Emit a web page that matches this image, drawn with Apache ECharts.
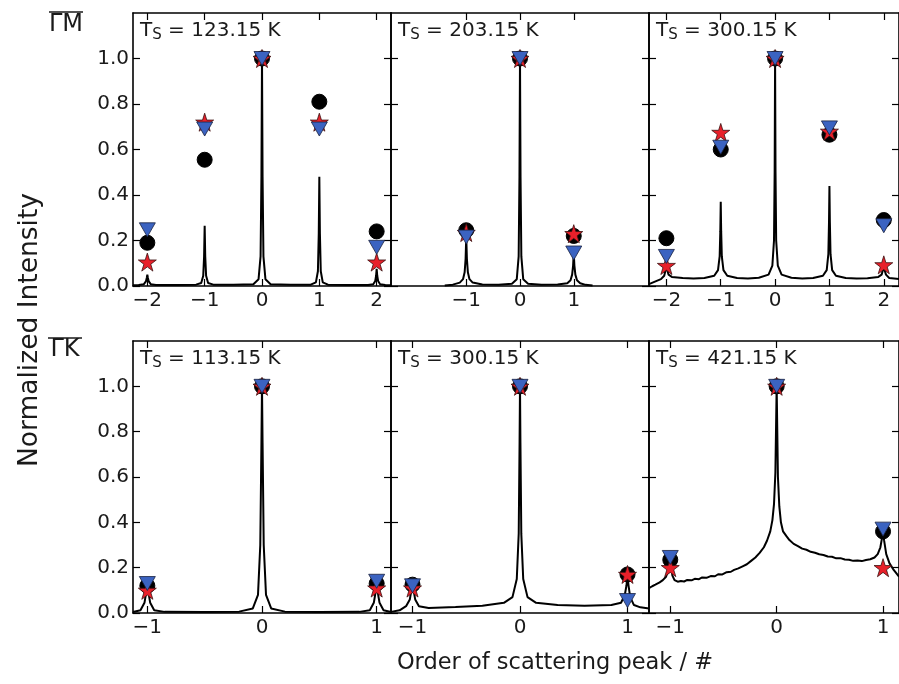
<!DOCTYPE html>
<html><head><meta charset="utf-8">
<script src="https://cdn.jsdelivr.net/npm/echarts@6/dist/echarts.min.js"></script>
<style>html,body{margin:0;padding:0;background:#fff}#c{width:899px;height:684px}</style>
</head><body><div id="c"></div>
<script>
// ---------- data ----------
const temps = ['123.15', '203.15', '300.15', '113.15', '300.15', '421.15'];
const rowLabels = ['ΓM', 'ΓK'];
const xLabel = 'Order of scattering peak / #';
const yLabel = 'Normalized Intensity';
const yTicks = [0, 0.2, 0.4, 0.6, 0.8, 1.0];
const xTicks5 = [-2, -1, 0, 1, 2];
const xTicks3 = [-1, 0, 1];

// marker positions / values per panel
const mx1 = [-2, -1, 0, 1, 2];
const circ1 = [0.19, 0.555, 1.0, 0.81, 0.24];
const star1 = [0.105, 0.72, 1.0, 0.72, 0.105];
const tri1 = [0.247, 0.69, 1.0, 0.69, 0.17];

const mx2 = [-1, 0, 1];
const circ2 = [0.245, 1.0, 0.22];
const star2 = [0.235, 1.0, 0.23];
const tri2 = [0.215, 1.0, 0.145];

const mx3 = [-2, -1, 0, 1, 2];
const circ3 = [0.21, 0.60, 1.0, 0.665, 0.29];
const star3 = [0.09, 0.675, 1.0, 0.68, 0.093];
const tri3 = [0.13, 0.61, 1.0, 0.695, 0.265];

const mx4 = [-1, 0, 1];
const circ4 = [0.12, 1.0, 0.13];
const star4 = [0.10, 1.0, 0.11];
const tri4 = [0.13, 1.0, 0.14];

const mx5 = [-1, 0, 1];
const circ5 = [0.125, 1.0, 0.17];
const star5 = [0.11, 1.0, 0.17];
const tri5 = [0.12, 1.0, 0.055];

const mx6 = [-1, 0, 1];
const circ6 = [0.235, 1.0, 0.36];
const star6 = [0.20, 1.0, 0.20];
const tri6 = [0.245, 1.0, 0.37];

// measured spectra [order, intensity]
const line1 = [[-2.25,0.003],[-2.15,0.004],[-2.06,0.008],[-2.025,0.02],[-2.01,0.035],[-2,0.05],[-1.99,0.035],[-1.975,0.02],[-1.94,0.008],[-1.85,0.004],[-1.5,0.004],
 [-1.15,0.006],[-1.06,0.013],[-1.025,0.045],[-1.01,0.13],[-1,0.265],[-0.99,0.13],[-0.975,0.045],[-0.94,0.013],[-0.85,0.006],[-0.5,0.005],
 [-0.15,0.008],[-0.06,0.03],[-0.025,0.13],[-0.01,0.48],[0,1.0],[0.01,0.48],[0.025,0.13],[0.06,0.03],[0.15,0.008],[0.5,0.005],
 [0.85,0.006],[0.94,0.016],[0.975,0.065],[0.99,0.23],[1,0.48],[1.01,0.23],[1.025,0.065],[1.06,0.016],[1.15,0.006],[1.5,0.004],
 [1.85,0.004],[1.94,0.008],[1.975,0.022],[1.99,0.045],[2,0.075],[2.01,0.045],[2.025,0.022],[2.06,0.008],[2.15,0.004],[2.25,0.003]];

const line2 = [[-1.4,0.002],[-1.25,0.006],[-1.12,0.015],[-1.06,0.03],[-1.03,0.06],[-1.012,0.12],[-1,0.215],[-0.988,0.12],[-0.97,0.06],[-0.94,0.03],[-0.88,0.015],[-0.7,0.007],[-0.4,0.006],
 [-0.15,0.01],[-0.06,0.03],[-0.025,0.13],[-0.01,0.48],[0,1.0],[0.01,0.48],[0.025,0.13],[0.06,0.03],[0.15,0.01],[0.4,0.006],[0.7,0.007],
 [0.88,0.012],[0.94,0.025],[0.97,0.05],[0.988,0.09],[1,0.145],[1.012,0.09],[1.03,0.05],[1.06,0.025],[1.12,0.012],[1.22,0.005],[1.35,0.002]];

const line3 = [[-2.32,0.008],[-2.2,0.02],[-2.1,0.03],[-2.04,0.045],[-2.015,0.07],[-2,0.09],[-1.985,0.07],[-1.96,0.05],[-1.9,0.04],[-1.7,0.035],[-1.5,0.033],[-1.3,0.035],
 [-1.12,0.045],[-1.05,0.07],[-1.02,0.13],[-1.008,0.24],[-1,0.37],[-0.992,0.24],[-0.98,0.13],[-0.95,0.07],[-0.88,0.045],[-0.7,0.035],[-0.5,0.033],[-0.3,0.036],
 [-0.12,0.05],[-0.05,0.09],[-0.02,0.2],[-0.008,0.5],[0,1.0],[0.008,0.5],[0.02,0.2],[0.05,0.09],[0.12,0.05],[0.3,0.036],[0.5,0.033],[0.7,0.035],
 [0.88,0.045],[0.95,0.07],[0.98,0.14],[0.992,0.28],[1,0.44],[1.008,0.28],[1.02,0.14],[1.05,0.07],[1.12,0.045],[1.3,0.035],[1.5,0.033],[1.7,0.034],
 [1.9,0.04],[1.96,0.05],[1.985,0.07],[2,0.1],[2.015,0.07],[2.04,0.05],[2.1,0.035],[2.3,0.03]];

const line4 = [[-1.125,0.004],[-1.06,0.012],[-1.025,0.045],[-1.01,0.09],[-1,0.12],[-0.99,0.09],[-0.975,0.045],[-0.94,0.012],[-0.85,0.005],[-0.5,0.004],
 [-0.2,0.006],[-0.08,0.02],[-0.035,0.08],[-0.015,0.3],[-0.005,0.75],[0,1.0],[0.005,0.75],[0.015,0.3],[0.035,0.08],[0.08,0.02],[0.2,0.006],[0.5,0.004],
 [0.85,0.005],[0.94,0.012],[0.975,0.045],[0.99,0.09],[1,0.12],[1.01,0.09],[1.025,0.045],[1.06,0.012],[1.125,0.004]];

const line5 = [[-1.2,0.005],[-1.12,0.012],[-1.06,0.03],[-1.025,0.06],[-1.01,0.1],[-1,0.125],[-0.99,0.1],[-0.975,0.06],[-0.94,0.03],[-0.85,0.022],[-0.6,0.026],[-0.35,0.032],
 [-0.15,0.045],[-0.07,0.07],[-0.03,0.15],[-0.012,0.35],[-0.004,0.75],[0,1.0],[0.004,0.75],[0.012,0.35],[0.03,0.15],[0.07,0.07],[0.15,0.045],[0.35,0.035],[0.6,0.032],
 [0.85,0.035],[0.94,0.045],[0.975,0.08],[0.99,0.12],[1,0.16],[1.01,0.12],[1.025,0.07],[1.06,0.035],[1.12,0.025],[1.2,0.02]];

const line6 = [[-1.2,0.11],[-1.17,0.118],[-1.14,0.125],[-1.1,0.135],[-1.07,0.145],[-1.04,0.16],[-1.02,0.185],[-1.008,0.21],[-1,0.225],[-0.992,0.2],[-0.98,0.165],[-0.96,0.145],
 [-0.93,0.138],[-0.9,0.141],[-0.87,0.139],[-0.84,0.146],[-0.8,0.144],[-0.77,0.151],[-0.73,0.149],[-0.7,0.157],[-0.66,0.155],[-0.62,0.163],[-0.58,0.162],[-0.55,0.171],[-0.51,0.17],
 [-0.47,0.18],[-0.43,0.182],[-0.4,0.19],[-0.36,0.197],[-0.32,0.206],[-0.28,0.215],[-0.24,0.23],[-0.2,0.245],[-0.16,0.265],[-0.12,0.29],[-0.09,0.32],[-0.06,0.36],[-0.04,0.41],
 [-0.025,0.48],[-0.012,0.62],[0,1.0],[0.012,0.6],[0.025,0.47],[0.04,0.4],[0.06,0.36],[0.09,0.34],[0.12,0.322],[0.16,0.305],[0.2,0.295],[0.24,0.284],[0.28,0.279],
 [0.32,0.27],[0.36,0.266],[0.4,0.259],[0.44,0.256],[0.48,0.249],[0.52,0.248],[0.56,0.241],[0.6,0.242],[0.64,0.236],[0.68,0.235],[0.72,0.23],[0.76,0.232],[0.8,0.229],
 [0.84,0.234],[0.88,0.237],[0.92,0.245],[0.95,0.26],[0.975,0.29],[0.99,0.33],[1,0.37],[1.01,0.32],[1.03,0.26],[1.06,0.22],[1.1,0.19],[1.15,0.16]];

// ---------- layout ----------
const FONT = 'DejaVu Sans';
const W = 258;
const panels = [
  {left:133, top:13,  h:273, xmin:-2.25, xmax:2.25, xt:xTicks5, ylab:true,  line:line1, mx:mx1, c:circ1, s:star1, t:tri1},
  {left:391, top:13,  h:273, xmin:-2.4,  xmax:2.4,  xt:xTicks3, ylab:false, line:line2, mx:mx2, c:circ2, s:star2, t:tri2},
  {left:649, top:13,  h:273, xmin:-2.32, xmax:2.28, xt:xTicks5, ylab:false, line:line3, mx:mx3, c:circ3, s:star3, t:tri3},
  {left:133, top:341, h:272, xmin:-1.125,xmax:1.125,xt:xTicks3, ylab:true,  line:line4, mx:mx4, c:circ4, s:star4, t:tri4},
  {left:391, top:341, h:272, xmin:-1.2,  xmax:1.2,  xt:xTicks3, ylab:false, line:line5, mx:mx5, c:circ5, s:star5, t:tri5},
  {left:649, top:341, h:272, xmin:-1.2,  xmax:1.15, xt:xTicks3, ylab:false, line:line6, mx:mx6, c:circ6, s:star6, t:tri6}
];

const STAR = 'path://M50,2 L61.2,36.5 L97.6,36.5 L68.2,57.9 L79.4,92.4 L50,71 L20.6,92.4 L31.8,57.9 L2.4,36.5 L38.8,36.5 Z';
const fmtX = v => v < 0 ? '\u2212' + Math.abs(v) : String(v);
const axLine = {show:true, onZero:false, lineStyle:{color:'#000', width:1.6}};
const tickSty = {color:'#000', width:1.2};

const grid = [], xAxis = [], yAxis = [], series = [], graphic = [];
panels.forEach((p, i) => {
  grid.push({left:p.left, top:p.top, width:W, height:p.h, containLabel:false});
  xAxis.push({gridIndex:i, type:'value', position:'bottom', min:p.xmin, max:p.xmax,
    axisLine:axLine, splitLine:{show:false},
    axisTick:{show:true, inside:true, length:7, customValues:p.xt, lineStyle:tickSty},
    axisLabel:{show:true, customValues:p.xt, formatter:fmtX, fontFamily:FONT, fontSize:20, color:'#1a1a1a', margin:5}});
  xAxis.push({gridIndex:i, type:'value', position:'top', min:p.xmin, max:p.xmax,
    axisLine:axLine, splitLine:{show:false},
    axisTick:{show:true, inside:true, length:7, customValues:p.xt, lineStyle:tickSty},
    axisLabel:{show:false}});
  yAxis.push({gridIndex:i, type:'value', position:'left', min:0, max:1.2,
    axisLine:axLine, splitLine:{show:false},
    axisTick:{show:true, inside:true, length:7, customValues:yTicks, lineStyle:tickSty},
    axisLabel:{show:p.ylab, customValues:yTicks, formatter:v => v.toFixed(1), fontFamily:FONT, fontSize:20, color:'#1a1a1a', margin:4}});
  yAxis.push({gridIndex:i, type:'value', position:'right', min:0, max:1.2,
    axisLine:axLine, splitLine:{show:false},
    axisTick:{show:true, inside:true, length:7, customValues:yTicks, lineStyle:tickSty},
    axisLabel:{show:false}});
  const xi = 2*i, yi = 2*i;
  series.push({type:'line', xAxisIndex:xi, yAxisIndex:yi, data:p.line, showSymbol:false, smooth:false,
    lineStyle:{color:'#000', width:2}, z:2});
  series.push({type:'scatter', xAxisIndex:xi, yAxisIndex:yi, data:p.mx.map((x,k)=>[x,p.c[k]]),
    symbol:'circle', symbolSize:15, itemStyle:{color:'#000', borderColor:'#000', borderWidth:1, opacity:1}, z:3});
  series.push({type:'scatter', xAxisIndex:xi, yAxisIndex:yi, data:p.mx.map((x,k)=>[x,p.s[k]]),
    symbol:STAR, symbolSize:18, itemStyle:{color:'#e8202a', borderColor:'#3a1010', borderWidth:0.8, opacity:1}, z:4});
  series.push({type:'scatter', xAxisIndex:xi, yAxisIndex:yi, data:p.mx.map((x,k)=>[x,p.t[k]]),
    symbol:'triangle', symbolRotate:180, symbolSize:[16,14], itemStyle:{color:'#3b63c1', borderColor:'#1a2240', borderWidth:0.8, opacity:1}, z:5});
  graphic.push({type:'text', x:p.left+7, y:p.top+6, z:10,
    style:{text:'{t|T}{s|S}{t| = ' + temps[i] + ' K}', textVerticalAlign:'top',
      rich:{t:{fontFamily:FONT, fontSize:20, lineHeight:24, fill:'#1a1a1a', verticalAlign:'middle'},
            s:{fontFamily:FONT, fontSize:15, lineHeight:11, fill:'#1a1a1a', verticalAlign:'bottom'}}}});
});

// row labels with overline
[[66, 25, 12], [65, 350, 338]].forEach((r, k) => {
  graphic.push({type:'text', x:r[0], y:r[1], style:{text:rowLabels[k], fontFamily:FONT, fontSize:24, fill:'#1a1a1a', textAlign:'center', textVerticalAlign:'middle'}});
  graphic.push({type:'line', shape:{x1:r[0]-17, y1:r[2], x2:r[0]+17, y2:r[2]}, style:{stroke:'#1a1a1a', lineWidth:1.6}});
});
graphic.push({type:'text', x:555, y:663, style:{text:xLabel, fontFamily:FONT, fontSize:22.5, fill:'#1a1a1a', textAlign:'center', textVerticalAlign:'middle'}});
graphic.push({type:'text', x:30, y:330, rotation:Math.PI/2, style:{text:yLabel, fontFamily:FONT, fontSize:26.5, fill:'#1a1a1a', textAlign:'center', textVerticalAlign:'middle'}});

const chart = echarts.init(document.getElementById('c'), null, {renderer:'canvas'});
chart.setOption({animation:false, backgroundColor:'#fff', grid, xAxis, yAxis, series, graphic});
</script></body></html>
